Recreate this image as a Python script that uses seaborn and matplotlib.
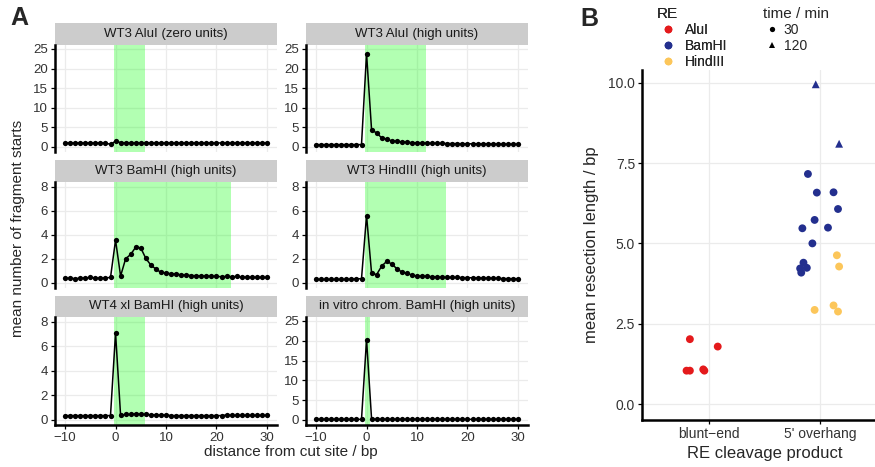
import numpy as np
import pandas as pd
import matplotlib
matplotlib.use("Agg")
import matplotlib.pyplot as plt
from matplotlib.lines import Line2D
import seaborn as sns

# ---- panel A data: mean fragment starts vs distance from cut site ----
distance = list(range(-10, 31))

alui_zero = [1.03, 1.03, 1.03, 1.03, 1.03, 1.03, 1.03, 1.03, 1.03, 0.65,
             1.50, 1.10, 1.05, 1.03, 1.03, 1.03, 1.03, 1.03, 1.03, 1.03,
             1.03, 1.03, 1.03, 1.03, 1.03, 1.03, 1.03, 1.03, 1.03, 1.03,
             1.03, 1.03, 1.03, 1.03, 1.03, 1.03, 1.03, 1.03, 1.03, 1.03,
             1.03]
alui_high = [0.60, 0.60, 0.60, 0.60, 0.60, 0.60, 0.60, 0.60, 0.60, 0.60,
             23.8, 4.30, 3.60, 2.30, 2.00, 1.55, 1.45, 1.30, 1.20, 1.10,
             1.05, 1.00, 0.98, 0.95, 0.92, 0.90, 0.88, 0.86, 0.85, 0.83,
             0.82, 0.80, 0.79, 0.78, 0.77, 0.75, 0.74, 0.72, 0.71, 0.70,
             0.68]
bamhi_high = [0.36, 0.38, 0.34, 0.38, 0.40, 0.44, 0.40, 0.38, 0.40, 0.44,
              3.55, 0.56, 2.00, 2.36, 2.97, 2.90, 2.03, 1.47, 1.14, 0.86,
              0.82, 0.74, 0.72, 0.66, 0.63, 0.60, 0.58, 0.57, 0.55, 0.54,
              0.53, 0.50, 0.52, 0.50, 0.52, 0.47, 0.46, 0.45, 0.45, 0.44,
              0.44]
hindiii_high = [0.27, 0.27, 0.27, 0.27, 0.27, 0.27, 0.28, 0.30, 0.33, 0.33,
                5.60, 0.78, 0.68, 1.39, 1.78, 1.56, 1.17, 0.89, 0.78, 0.64,
                0.56, 0.55, 0.53, 0.50, 0.48, 0.45, 0.45, 0.44, 0.44, 0.43,
                0.42, 0.41, 0.40, 0.39, 0.38, 0.37, 0.36, 0.35, 0.34, 0.34,
                0.33]
wt4_bamhi = [0.33, 0.33, 0.33, 0.33, 0.33, 0.33, 0.33, 0.33, 0.33, 0.33,
             7.10, 0.34, 0.42, 0.42, 0.48, 0.44, 0.42, 0.40, 0.38, 0.36,
             0.38, 0.33, 0.33, 0.33, 0.33, 0.33, 0.33, 0.33, 0.33, 0.33,
             0.33, 0.33, 0.38, 0.34, 0.34, 0.34, 0.34, 0.34, 0.34, 0.34,
             0.34]
invitro_bamhi = [0.15, 0.15, 0.15, 0.15, 0.15, 0.15, 0.15, 0.15, 0.15, 0.15,
                 20.3, 0.15, 0.15, 0.15, 0.15, 0.15, 0.15, 0.15, 0.15, 0.15,
                 0.15, 0.15, 0.15, 0.15, 0.15, 0.15, 0.15, 0.15, 0.15, 0.15,
                 0.15, 0.15, 0.15, 0.15, 0.15, 0.15, 0.15, 0.15, 0.15, 0.15,
                 0.15]

facet_titles = ["WT3 AluI (zero units)", "WT3 AluI (high units)",
                "WT3 BamHI (high units)", "WT3 HindIII (high units)",
                "WT4 xl BamHI (high units)", "in vitro chrom. BamHI (high units)"]
facet_values = [alui_zero, alui_high, bamhi_high, hindiii_high, wt4_bamhi, invitro_bamhi]
shade_end = [5.8, 11.7, 22.8, 15.7, 5.8, 0.7]
big_scale = [True, True, False, False, False, True]

# ---- panel B data: mean resection length ----
re_name = ["AluI"] * 6 + ["BamHI"] * 14 + ["HindIII"] * 5
product = ["blunt\u2212end"] * 6 + ["5' overhang"] * 19
time_min = ([30] * 6 + [120, 120] + [30] * 12 + [30] * 5)
resection = [2.02, 1.79, 1.04, 1.04, 1.08, 1.04,
             9.95, 8.10,
             7.16, 6.58, 6.59, 6.07, 5.73, 5.47, 5.49, 5.00, 4.40, 4.24, 4.22, 4.09,
             4.63, 4.28, 2.93, 3.07, 2.88]
# horizontal jitter as seen in the picture
jitter = [-0.17, 0.08, -0.20, -0.17, -0.05, -0.04,
          -0.04, 0.17,
          -0.11, -0.03, 0.12, 0.16, -0.05, -0.16, 0.07, -0.07, -0.15, -0.12, -0.18, -0.17,
          0.15, 0.17, -0.05, 0.12, 0.16]
categories = ["blunt\u2212end", "5' overhang"]
re_colors = {"AluI": "#e41a1c", "BamHI": "#232f8e", "HindIII": "#fcc65a"}

sns.set_style("white")
plt.rcParams["font.family"] = ["Liberation Sans", "DejaVu Sans"]

W, H = 875, 467
fig = plt.figure(figsize=(W / 100, H / 100), dpi=100)


def px_axes(x0, y0, x1, y1):
    return fig.add_axes([x0 / W, 1 - y1 / H, (x1 - x0) / W, (y1 - y0) / H])


cols = [(55, 277), (306, 528)]
rows = [(23, 45, 152), (160, 182, 288), (296, 317, 425)]
grid_col = "#ebebeb"
tick_col = "#333333"

for i, title in enumerate(facet_titles):
    r, c = divmod(i, 2)
    x0, x1 = cols[c]
    s0, p0, p1 = rows[r]

    strip = px_axes(x0, s0, x1, p0)
    strip.set_facecolor("#cccccc")
    strip.set_xticks([])
    strip.set_yticks([])
    for sp in strip.spines.values():
        sp.set_visible(False)
    strip.text(0.5, 0.5, title, ha="center", va="center", fontsize=9.5,
               color="#1a1a1a", transform=strip.transAxes)

    ax = px_axes(x0, p0, x1, p1)
    ax.set_axisbelow(True)
    ax.grid(True, color=grid_col, lw=0.9)
    ax.axvspan(-0.4, shade_end[i], color=(0, 1, 0), alpha=0.3, lw=0, zorder=1)
    df = pd.DataFrame({"distance": distance, "starts": facet_values[i]})
    sns.lineplot(data=df, x="distance", y="starts", ax=ax, color="black", lw=1.1,
                 marker="o", markersize=3.8, markeredgewidth=0, zorder=3)
    ax.set_xlim(-12, 32)
    ax.set_xticks([-10, 0, 10, 20, 30])
    if big_scale[i]:
        ax.set_ylim(-1.28, 26.0)
        ax.set_yticks([0, 5, 10, 15, 20, 25])
    else:
        ax.set_ylim(-0.44, 8.4)
        ax.set_yticks([0, 2, 4, 6, 8])
    ax.set_xlabel("")
    ax.set_ylabel("")
    for name, sp in ax.spines.items():
        sp.set_visible(name == "left" or (name == "bottom" and r == 2))
        sp.set_color("black")
        sp.set_linewidth(1.8)
    ax.tick_params(axis="both", length=3, width=0.9, color="black",
                   labelcolor=tick_col, labelsize=9.5, pad=2,
                   left=True, bottom=(r == 2), labelbottom=(r == 2))

fig.text(18 / W, 1 - 228 / H, "mean number of fragment starts", rotation=90,
         ha="center", va="center", fontsize=11)
fig.text(291 / W, 1 - 452 / H, "distance from cut site / bp",
         ha="center", va="center", fontsize=11)
fig.text(10 / W, 1 - 18 / H, "A", fontsize=18, fontweight="bold", ha="left", va="center")
fig.text(580 / W, 1 - 19 / H, "B", fontsize=18, fontweight="bold", ha="left", va="center")

# ---- panel B ----
bdf = pd.DataFrame({"RE": re_name, "product": product, "time": time_min,
                    "length": resection, "jit": jitter})
bdf["pos"] = bdf["product"].map({k: j + 1 for j, k in enumerate(categories)}) + bdf["jit"]

axb = px_axes(642, 70, 887, 420)
axb.set_axisbelow(True)
axb.grid(True, color=grid_col, lw=0.9)
sns.scatterplot(data=bdf, x="pos", y="length", hue="RE", style="time",
                palette=re_colors, markers={30: "o", 120: "^"}, s=32,
                linewidth=0, ax=axb, legend=False, zorder=3)
axb.set_xlim(0.4, 2.6)
axb.set_ylim(-0.495, 10.395)
axb.set_xticks([1, 2])
axb.set_xticklabels(categories)
axb.set_yticks([0, 2.5, 5, 7.5, 10])
axb.set_yticklabels(["0.0", "2.5", "5.0", "7.5", "10.0"])
for name, sp in axb.spines.items():
    sp.set_visible(name in ("left", "bottom"))
    sp.set_color("black")
    sp.set_linewidth(1.8)
axb.tick_params(axis="both", length=3, width=0.9, color="black",
                labelcolor=tick_col, labelsize=10, pad=2, left=True, bottom=True)
axb.set_xlabel("RE cleavage product", fontsize=12)
axb.set_ylabel("mean resection length / bp", fontsize=12)
axb.yaxis.set_label_coords(-0.175, 0.5)
axb.xaxis.set_label_coords(0.5, -0.075)

re_handles = [Line2D([], [], ls="", marker="o", markersize=5.5, markeredgewidth=0,
                     color=re_colors[k], label=k) for k in re_colors]
time_handles = [Line2D([], [], ls="", marker="o", markersize=3.8, markeredgewidth=0,
                       color="black", label="30"),
                Line2D([], [], ls="", marker="^", markersize=4.5, markeredgewidth=0,
                       color="black", label="120")]
leg1 = fig.legend(handles=re_handles, title="RE", loc="upper left",
                  bbox_to_anchor=(657 / W, 1 - 7 / H), frameon=False, fontsize=10,
                  title_fontsize=11, handlelength=1.6, handletextpad=0.4,
                  labelspacing=0.15, borderpad=0, borderaxespad=0, alignment="left")
leg2 = fig.legend(handles=time_handles, title="time / min", loc="upper left",
                  bbox_to_anchor=(763 / W, 1 - 7 / H), frameon=False, fontsize=10,
                  title_fontsize=11, handlelength=1.3, handletextpad=0.2,
                  labelspacing=0.15, borderpad=0, borderaxespad=0, alignment="left")
fig.add_artist(leg1)

fig.savefig("out.png", dpi=100)
